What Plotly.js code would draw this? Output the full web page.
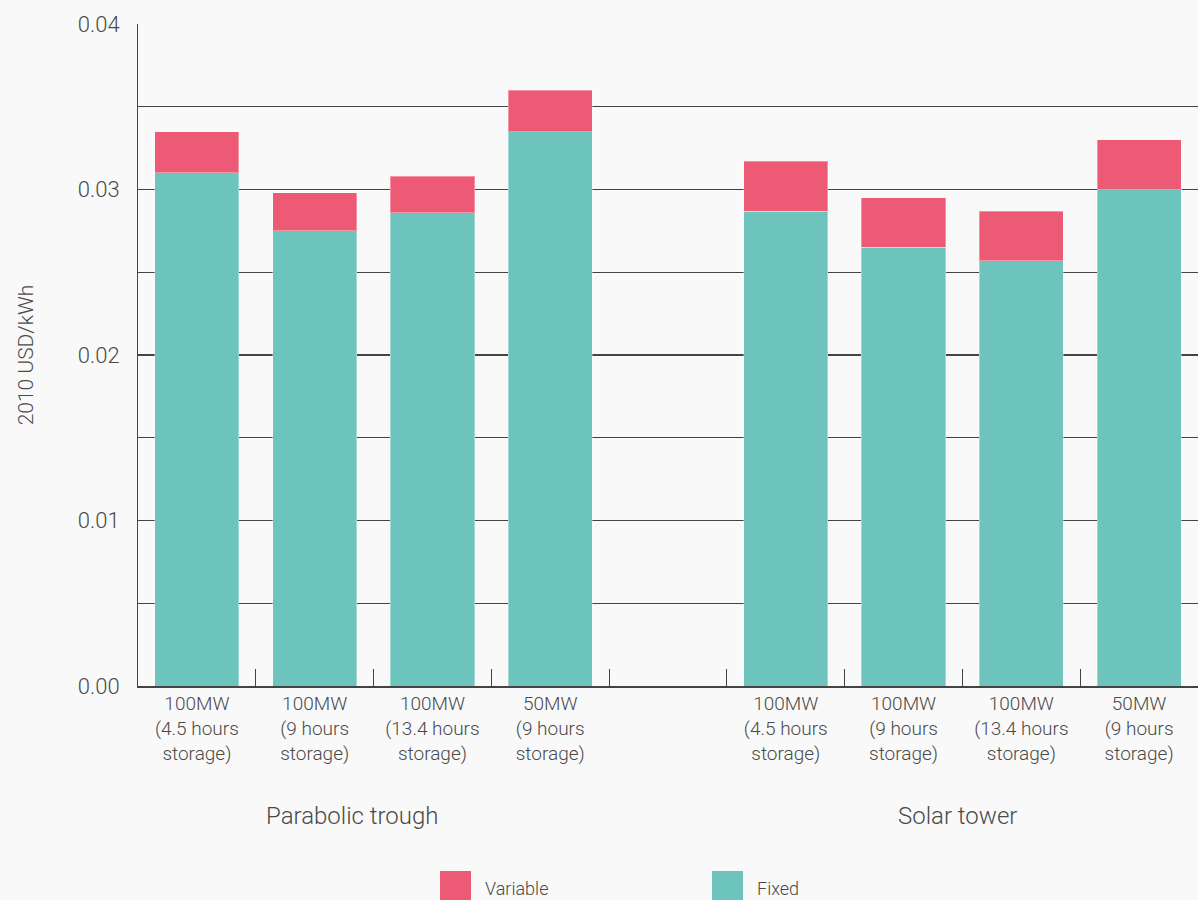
<!DOCTYPE html>
<html>
<head>
<meta charset="utf-8">
<script src="https://cdn.plot.ly/plotly-3.0.1.min.js"></script>
<style>
  html, body { margin: 0; padding: 0; background: #f9f9f9; }
  #chart { width: 1198px; height: 900px; }
</style>
</head>
<body>
<div id="chart"></div>
<script>
// ---- data ----
const categoryIds = ["pt1", "pt2", "pt3", "pt4", "gap", "st1", "st2", "st3", "st4"];
const categoryLabels = [
  "100MW<br>(4.5 hours<br>storage)",
  "100MW<br>(9 hours<br>storage)",
  "100MW<br>(13.4 hours<br>storage)",
  "50MW<br>(9 hours<br>storage)",
  "",
  "100MW<br>(4.5 hours<br>storage)",
  "100MW<br>(9 hours<br>storage)",
  "100MW<br>(13.4 hours<br>storage)",
  "50MW<br>(9 hours<br>storage)"
];
const barIds = ["pt1", "pt2", "pt3", "pt4", "st1", "st2", "st3", "st4"];
const fixedValues    = [0.0310, 0.0275, 0.0286, 0.0335, 0.0287, 0.0265, 0.0257, 0.0300];
const variableValues = [0.0025, 0.0023, 0.0022, 0.0025, 0.0030, 0.0030, 0.0030, 0.0030];
const seriesNames = ["Variable", "Fixed"];
const groupNames = ["Parabolic trough", "Solar tower"];
const yTickVals = [0, 0.005, 0.01, 0.015, 0.02, 0.025, 0.03, 0.035, 0.04];
const yTickText = ["0.00", "", "0.01", "", "0.02", "", "0.03", "", "0.04"];
const yTitle = "2010 USD/kWh";

// ---- style ----
const teal = "#6dc4bd";
const pink = "#ec5a75";
const textColor = "#4a4a4a";
const fontFamily = "Roboto, 'Open Sans', sans-serif";

const traces = [
  {
    type: "bar", name: seriesNames[1], x: barIds, y: fixedValues,
    marker: { color: teal, line: { color: "rgba(255,255,255,0.35)", width: 1 } },
    hoverinfo: "skip", showlegend: false
  },
  {
    type: "bar", name: seriesNames[0], x: barIds, y: variableValues,
    marker: { color: pink, line: { color: "rgba(255,255,255,0.35)", width: 1 } },
    hoverinfo: "skip", showlegend: false
  }
];

const legendItems = [
  { name: seriesNames[0], color: pink, x0: 0.2849 },
  { name: seriesNames[1], color: teal, x0: 0.5415 }
];
const shapes = [];
const annotations = [];
legendItems.forEach(it => {
  shapes.push({
    type: "rect", xref: "paper", yref: "paper",
    x0: it.x0, x1: it.x0 + 31 / 1060, y0: -0.2795, y1: -0.34,
    fillcolor: it.color, line: { width: 0 }
  });
  annotations.push({
    text: it.name, xref: "paper", yref: "paper",
    x: it.x0 + 43 / 1060, y: -0.3055, xanchor: "left", yanchor: "middle",
    showarrow: false, font: { family: fontFamily, size: 18, color: textColor, weight: 300 }
  });
});
annotations.push({
  text: groupNames[0], xref: "paper", yref: "paper", x: (352 - 138) / 1060, y: -0.196,
  xanchor: "center", yanchor: "middle", showarrow: false,
  font: { family: fontFamily, size: 24, color: textColor, weight: 300 }
});
annotations.push({
  text: groupNames[1], xref: "paper", yref: "paper", x: (957 - 138) / 1060, y: -0.196,
  xanchor: "center", yanchor: "middle", showarrow: false,
  font: { family: fontFamily, size: 24, color: textColor, weight: 300 }
});

const layout = {
  width: 1198, height: 900,
  margin: { l: 138, r: 0, t: 24, b: 214 },
  paper_bgcolor: "#f9f9f9", plot_bgcolor: "#f9f9f9",
  barmode: "stack", bargap: 0.285,
  showlegend: false,
  font: { family: fontFamily, color: textColor, weight: 300 },
  xaxis: {
    type: "category", categoryorder: "array", categoryarray: categoryIds,
    tickmode: "array", tickvals: categoryIds, ticktext: categoryLabels,
    range: [-0.5, 8.5], tickson: "boundaries",
    ticks: "inside", ticklen: 17, tickcolor: "#444", tickwidth: 1,
    showgrid: false, showline: true, linecolor: "#444", linewidth: 1.5,
    zeroline: false, tickangle: 0,
    tickfont: { family: fontFamily, size: 19, color: textColor, weight: 300 }
  },
  yaxis: {
    range: [0, 0.04], tickmode: "array", tickvals: yTickVals, ticktext: yTickText,
    showgrid: true, gridcolor: "#444", gridwidth: 1.3,
    showline: true, linecolor: "#444", linewidth: 1, zeroline: false,
    ticks: "", ticklabelstandoff: 13,
    tickfont: { family: fontFamily, size: 22, color: textColor, weight: 300 },
    title: { text: yTitle, standoff: 38, font: { family: fontFamily, size: 21, color: textColor, weight: 300 } }
  },
  shapes: shapes,
  annotations: annotations
};

Plotly.newPlot("chart", traces, layout, { displayModeBar: false, staticPlot: true });
</script>
</body>
</html>
